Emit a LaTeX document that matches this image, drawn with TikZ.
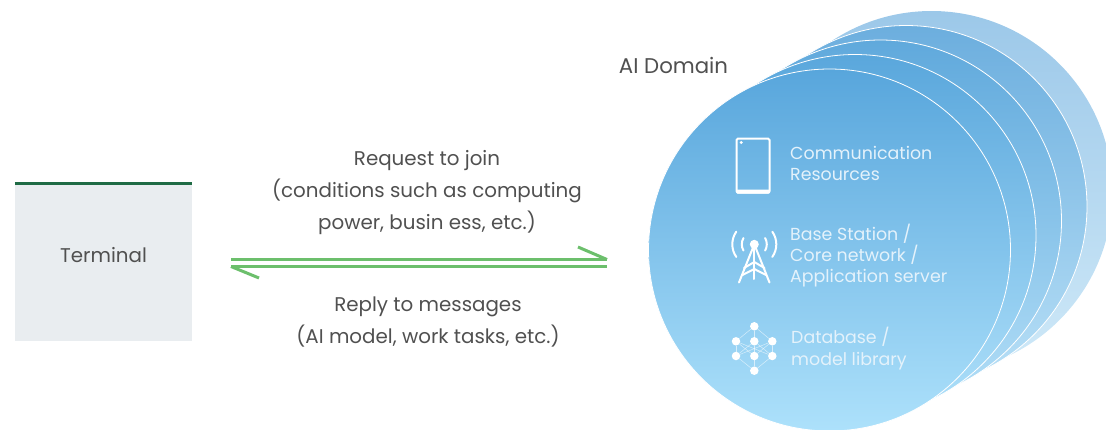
\documentclass[tikz,border=0pt]{standalone}
\usepackage{fontspec}
\setmainfont{Poppins}
\definecolor{txtgray}{HTML}{505050}
\definecolor{paneltxt}{HTML}{E4F2FB}
\definecolor{linkgreen}{HTML}{6CBF6C}
\definecolor{termgreen}{HTML}{1F6B45}
\definecolor{termfill}{HTML}{E9EDF0}
\tikzset{
  disc/.style={circle,minimum size=362pt,inner sep=0pt,draw=white,line width=.8pt},
  caption/.style={text=txtgray,font=\fontsize{19.85}{32}\selectfont,align=center},
  paneltext/.style={text=paneltxt,font=\fontsize{17.4}{21.3}\selectfont,align=left,anchor=west,inner sep=0pt},
  iconline/.style={draw=white,line width=2pt,line cap=round},
  netdot/.style={circle,fill=white,minimum size=8.5pt,inner sep=0pt}
}
\begin{document}
\begin{tikzpicture}[x=1pt,y=-1pt]
  \useasboundingbox (0,0) rectangle (1106,429);

  % terminal
  \node[fill=termfill,minimum width=177pt,minimum height=157pt,inner sep=0pt] (terminal) at (103.5,262.5) {};
  \node[caption] (terminallabel) at (103.5,255) {Terminal};
  \draw[termgreen,line width=3pt] (terminal.north west) -- (terminal.north east);

  % stacked domains
  \node[disc,draw=none,top color={rgb,255:red,156;green,200;blue,233},bottom color={rgb,255:red,207;green,233;blue,248}] (d5) at (931.5,192) {};
  \node[disc,top color={rgb,255:red,108;green,174;blue,222},bottom color={rgb,255:red,184;green,224;blue,247}] (d4) at (906,206.5) {};
  \node[disc,top color={rgb,255:red,96;green,169;blue,220},bottom color={rgb,255:red,178;green,222;blue,247}] (d3) at (880.5,221) {};
  \node[disc,top color={rgb,255:red,90;green,167;blue,220},bottom color={rgb,255:red,174;green,224;blue,250}] (d2) at (855,235.5) {};
  \node[disc,top color={rgb,255:red,88;green,166;blue,220},bottom color={rgb,255:red,173;green,225;blue,251}] (d1) at (829.5,250) {};

  \node[text=txtgray,font=\fontsize{21.3}{24}\selectfont,inner sep=0pt] (domain) at (673.5,65) {AI Domain};

  % link
  \coordinate (reqa) at (231,259.5);
  \coordinate (reqb) at (607,259.5);
  \coordinate (reqt) at (578,247);
  \coordinate (repa) at (607,266.5);
  \coordinate (repb) at (231,266.5);
  \coordinate (rept) at (259,278);
  \begin{scope}[every edge/.style={draw=linkgreen,line width=3pt}]
    \path (reqa) edge (reqb);
    \path (reqt) edge (reqb);
    \path (repa) edge (repb);
    \path (rept) edge (repb);
  \end{scope}

  \node[caption] (request) at (427,192.5) {Request to join\\(conditions such as computing\\power, busin ess, etc.)};
  \node[caption] (reply) at (428,322) {Reply to messages\\(AI model, work tasks, etc.)};

  % tablet
  \draw[iconline,rounded corners=1.5pt] (736.5,138.5) rectangle (769.5,192.5);
  \fill[white,rounded corners=1pt] (736,189.5) rectangle (770,193.5);
  \fill[white] (741.3,142.5) circle (1.6);
  \node[paneltext] (comm) at (790,163.5) {Communication\\Resources};

  % tower
  \node[netdot,minimum size=9pt] (tower) at (754.3,244.3) {};
  \coordinate (legl) at (739,282.5);
  \coordinate (legr) at (769.5,282.5);
  \coordinate (mast) at (754.3,279);
  \draw[iconline] (tower.center) -- (legl);
  \draw[iconline] (tower.center) -- (legr);
  \draw[iconline] (tower.center) -- (mast);
  \draw[iconline] (744,268) -- (754.3,262) -- (764.5,268);
  \draw[iconline] (742.5,275) -- (754.3,269) -- (766,275);
  \foreach \r/\a in {12.5/30,22/35} {
    \draw[iconline] (tower.center) ++(180-\a:\r) arc (180-\a:180+\a:\r);
    \draw[iconline] (tower.center) ++(-\a:\r) arc (-\a:\a:\r);
  }
  \node[paneltext] (station) at (790,255.5) {Base Station /\\Core network /\\Application server};

  % network
  \foreach \n/\x/\y in {t/754.3/326.3,la/736/341.3,ma/754.3/341.3,ra/772.3/341.3,lb/736/356,mb/754.3/356,rb/772.3/356,b/754.3/370.7}
    \node[netdot] (\n) at (\x,\y) {};
  \begin{scope}[every edge/.style={draw=white,line width=.5pt,opacity=.6}]
    \foreach \p in {la,ma,ra} {
      \path (t) edge (\p);
      \foreach \q in {lb,mb,rb} \path (\p) edge (\q);
    }
    \foreach \q in {lb,mb,rb} \path (\q) edge (b);
  \end{scope}
  \node[paneltext] (database) at (791,348.5) {Database /\\model library};

\end{tikzpicture}
\end{document}
